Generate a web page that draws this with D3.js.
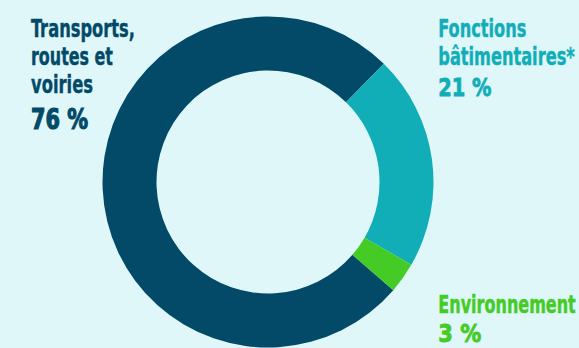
<!DOCTYPE html>
<html><head><meta charset="utf-8">
<script src="https://cdn.jsdelivr.net/npm/d3@7/dist/d3.min.js"></script>
<style>
html,body{margin:0;padding:0;background:#dff7f9;}
svg{display:block;}
text{font-family:"DejaVu Sans Condensed","DejaVu Sans",sans-serif;font-stretch:condensed;font-weight:bold;}
</style></head>
<body><svg id="c" width="579" height="348"></svg>
<script>
const categories = ["Transports, routes et voiries", "Fonctions bâtimentaires*", "Environnement"];
const values = [76, 21, 3];
const valueLabels = ["76 %", "21 %", "3 %"];
const labelLines = [["Transports,", "routes et", "voiries"], ["Fonctions", "bâtimentaires*"], ["Environnement"]];
const colors = ["#024a68", "#11aeb8", "#45cb25"];

const W = 579, H = 348;
const svg = d3.select("#c");
svg.append("rect").attr("width", W).attr("height", H).attr("fill", "#dff7f9");

const cx = 268, cy = 182, R = 165.5, r = 111.5;
const start = -229.2 * Math.PI / 180;
const pie = d3.pie().sort(null).startAngle(start).endAngle(start + 2 * Math.PI);
const arc = d3.arc().innerRadius(r).outerRadius(R);
const g = svg.append("g").attr("transform", `translate(${cx},${cy})`);
g.selectAll("path").data(pie(values)).join("path")
  .attr("d", arc).attr("fill", (d, i) => colors[i]);

// label layout (positions/sizes only)
const layout = [
  {x: 31, y0: 37.3, dy: 28, size: 25, widths: [104, 82, 62], vsize: 29, vy: 129, vw: 57},
  {x: 438.3, y0: 37.3, dy: 27.7, size: 24, widths: [88, 136.5], vsize: 24.5, vy: 95.5, vw: 53},
  {x: 438.3, y0: 313.3, dy: 27.7, size: 24, widths: [137.5], vsize: 24.5, vy: 342, vw: 43}
];
function fitText(sel, x, y, w) {
  const n = sel.node().getComputedTextLength();
  sel.attr("transform", `translate(${x},${y}) scale(${w / n},1)`);
}
layout.forEach((L, i) => {
  const t = svg.append("g");
  labelLines[i].forEach((s, j) => {
    const tx = t.append("text").attr("x", 0).attr("y", 0)
      .attr("font-size", L.size).attr("fill", colors[i])
      .attr("stroke", colors[i]).attr("stroke-width", 0.4)
      .text(s);
    fitText(tx, L.x, L.y0 + j * L.dy, L.widths[j]);
  });
  const v = t.append("text").attr("x", 0).attr("y", 0)
    .attr("font-size", L.vsize).attr("fill", colors[i])
    .attr("stroke", colors[i]).attr("stroke-width", i === 0 ? 1.2 : 0.8)
    .style("font-weight", 900).text(valueLabels[i]);
  fitText(v, L.x, L.vy, L.vw);
});
</script></body></html>
